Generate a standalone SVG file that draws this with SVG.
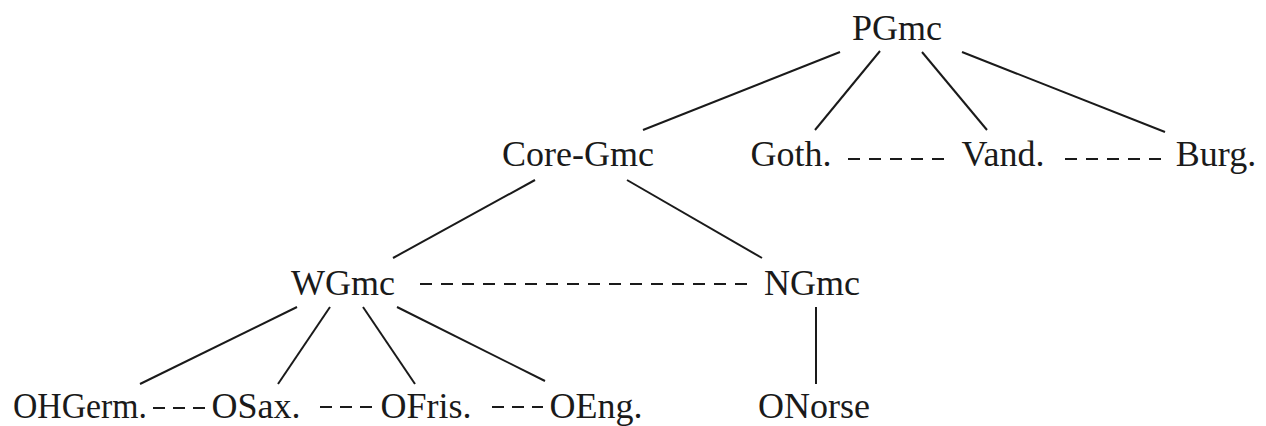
<svg xmlns="http://www.w3.org/2000/svg" width="1266" height="426" viewBox="0 0 1266 426">
  <style>
    .lbl { font-family: "Liberation Serif", "Times New Roman", serif; font-size: 36px; fill: #1a1a1a; text-anchor: middle; }
    .edge { stroke: #1a1a1a; stroke-width: 2; fill: none; }
    .dash { stroke: #1a1a1a; stroke-width: 2; fill: none; stroke-dasharray: 12 9; }
    .dash-s { stroke: #1a1a1a; stroke-width: 2; fill: none; stroke-dasharray: 12 8; }
  </style>
  <rect width="1266" height="426" fill="#ffffff"/>

  <!-- tree branches and dashed contact links -->
  <g id="connectors">
    <line class="edge" x1="840" y1="52" x2="643" y2="130"/>
    <line class="edge" x1="880" y1="51" x2="815" y2="130"/>
    <line class="edge" x1="922" y1="52" x2="987" y2="130"/>
    <line class="edge" x1="962" y1="52" x2="1165" y2="132"/>
    <line class="dash" x1="848" y1="159" x2="948" y2="159"/>
    <line class="dash" x1="1065" y1="159" x2="1161" y2="159"/>

    <line class="edge" x1="535" y1="180" x2="393" y2="258"/>
    <line class="edge" x1="627" y1="180" x2="762" y2="258"/>
    <line class="dash" x1="420" y1="284" x2="754" y2="284"/>

    <line class="edge" x1="297" y1="307" x2="140" y2="384"/>
    <line class="edge" x1="330" y1="307" x2="278" y2="384"/>
    <line class="edge" x1="363" y1="307" x2="415" y2="384"/>
    <line class="edge" x1="397" y1="307" x2="545" y2="381"/>
    <line class="edge" x1="816" y1="307" x2="816" y2="384"/>

    <line class="dash-s" x1="153" y1="408" x2="213" y2="408" stroke-dasharray="5 8 16 8 5"/>
    <line class="dash-s" x1="320" y1="407" x2="372" y2="407"/>
    <line class="dash-s" x1="492" y1="407" x2="543" y2="407"/>
  </g>

  <g id="PGmc"><text class="lbl" x="897" y="40">PGmc</text></g>
  <g id="CoreGmc"><text class="lbl" x="578" y="166">Core-Gmc</text></g>
  <g id="Goth"><text class="lbl" x="791" y="166">Goth.</text></g>
  <g id="Vand"><text class="lbl" x="1003" y="166">Vand.</text></g>
  <g id="Burg"><text class="lbl" x="1216" y="166">Burg.</text></g>
  <g id="WGmc"><text class="lbl" x="343" y="295">WGmc</text></g>
  <g id="NGmc"><text class="lbl" x="812" y="295">NGmc</text></g>
  <g id="OHGerm"><text class="lbl" x="80" y="418" textLength="134" lengthAdjust="spacingAndGlyphs">OHGerm.</text></g>
  <g id="OSax"><text class="lbl" x="256" y="418">OSax.</text></g>
  <g id="OFris"><text class="lbl" x="426" y="418">OFris.</text></g>
  <g id="OEng"><text class="lbl" x="596" y="418">OEng.</text></g>
  <g id="ONorse"><text class="lbl" x="814" y="418">ONorse</text></g>
</svg>
